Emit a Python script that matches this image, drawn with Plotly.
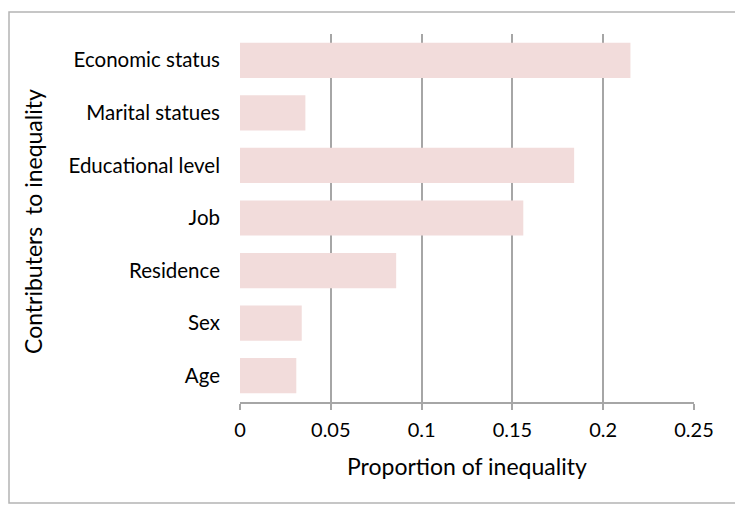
import plotly.graph_objects as go

categories = ["Age", "Sex", "Residence", "Job", "Educational level", "Marital statues", "Economic status"]
values = [0.031, 0.034, 0.086, 0.156, 0.184, 0.036, 0.215]
tick_vals = [0, 0.05, 0.1, 0.15, 0.2, 0.25]
tick_text = ["0", "0.05", "0.1", "0.15", "0.2", "0.25"]

FONT = "Lato"
GRID = "#a6a6a6"
OFF = 8  # page body margin offset
W, H = 743 - OFF, 517 - OFF
L, T = 240 - OFF, 34 - OFF
R = W - (694 - OFF)
B = H - (402 - OFF)
PW = W - L - R
PH = H - T - B


def px_x(x):
    return (x - OFF - L) / PW


def px_y(y):
    return (H - B - (y - OFF)) / PH


fig = go.Figure(go.Bar(
    x=values, y=categories, orientation="h",
    marker=dict(color="#f2dcdb", line=dict(width=0)),
))

fig.update_layout(
    width=W, height=H,
    margin=dict(l=L, r=R, t=T, b=B),
    paper_bgcolor="white", plot_bgcolor="white",
    bargap=0.33,
    showlegend=False,
    font=dict(family=FONT, size=20.5, color="#000000"),
    xaxis=dict(
        range=[0, 0.25], tickvals=tick_vals, ticktext=tick_text,
        showgrid=True, gridcolor=GRID, gridwidth=1.5,
        showline=True, linecolor=GRID, linewidth=1.5,
        ticks="outside", ticklen=6, tickcolor=GRID, tickwidth=1.5,
        zeroline=False, automargin=False, ticklabelstandoff=3,
        tickfont=dict(size=20),
    ),
    yaxis=dict(
        showgrid=False, zeroline=False, showline=False,
        ticks="", ticklabelstandoff=19, automargin=False,
        tickfont=dict(size=20.5),
    ),
    annotations=[
        dict(text="Proportion of inequality", xref="paper", yref="paper",
             x=px_x(467), y=px_y(466), xanchor="center", yanchor="middle",
             showarrow=False, font=dict(size=23)),
        dict(text="Contributers  to inequality", xref="paper", yref="paper",
             x=px_x(33), y=px_y(222), xanchor="center", yanchor="middle",
             textangle=-90, showarrow=False, font=dict(size=23)),
    ],
    shapes=[
        dict(type="rect", xref="paper", yref="paper",
             x0=px_x(OFF + 1), x1=px_x(737), y0=px_y(503), y1=px_y(12),
             line=dict(color="#b4b4b4", width=1.5), layer="below"),
    ],
)

fig.write_html("out.html")
